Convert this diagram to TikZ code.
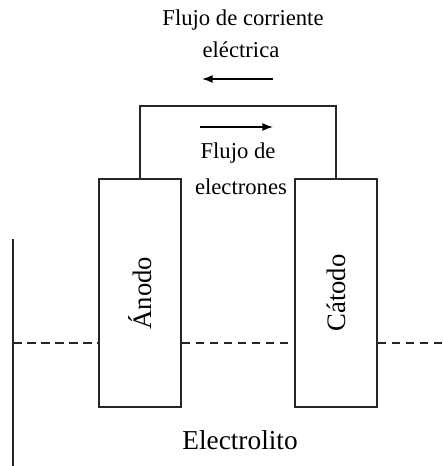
\documentclass[tikz,border=0pt]{standalone}
\usepackage{fontspec}
\setmainfont{Liberation Serif}
\usetikzlibrary{arrows.meta}
\begin{document}
\begin{tikzpicture}[x=0.75pt,y=-0.75pt,
  line/.style={draw=black!85,line width=1.2pt},
  electrode/.style={line,rotate=90,minimum width=171pt,minimum height=61.5pt,inner sep=0pt,font=\fontsize{20}{24}\selectfont},
  small/.style={font=\fontsize{17}{20}\selectfont,inner sep=0pt},
  flow/.style={draw=black,line width=1.1pt,-{Latex[length=8pt,width=6pt]}},
  dash line/.style={draw=black!85,line width=1.1pt,dash pattern=on 6.5pt off 4pt}]
\useasboundingbox (0,0) rectangle (442,466);
\node[electrode] (anodo) at (140,293) {Ánodo};
\node[electrode] (catodo) at (336,293) {Cátodo};
\coordinate (wl) at (140,106);
\coordinate (wr) at (336,106);
\draw[line] (anodo.east) -- (wl) -- (wr) -- (catodo.east);
\node[small] (t1) at (243,20) {Flujo de corriente};
\node[small] (t2) at (241,50) {eléctrica};
\coordinate (a1s) at (273,79);
\coordinate (a1e) at (202,79);
\draw[flow] (a1s) -- (a1e);
\coordinate (a2s) at (200,127);
\coordinate (a2e) at (273,127);
\draw[flow] (a2s) -- (a2e);
\node[small] (t3) at (238,153) {Flujo de};
\node[small] (t4) at (241,187) {electrones};
\coordinate (vt) at (13,239);
\coordinate (vb) at (13,466);
\draw[line] (vt) -- (vb);
\coordinate (d0) at (13,343);
\coordinate (d3) at (442,343);
\draw[dash line] (d0) -- (anodo.north |- d0);
\draw[dash line] (anodo.south |- d0) -- (catodo.north |- d0);
\draw[dash line] (catodo.south |- d0) -- (d3);
\node[font=\fontsize{20.5}{24}\selectfont,inner sep=0pt] (el) at (240,440) {Electrolito};
\end{tikzpicture}
\end{document}
